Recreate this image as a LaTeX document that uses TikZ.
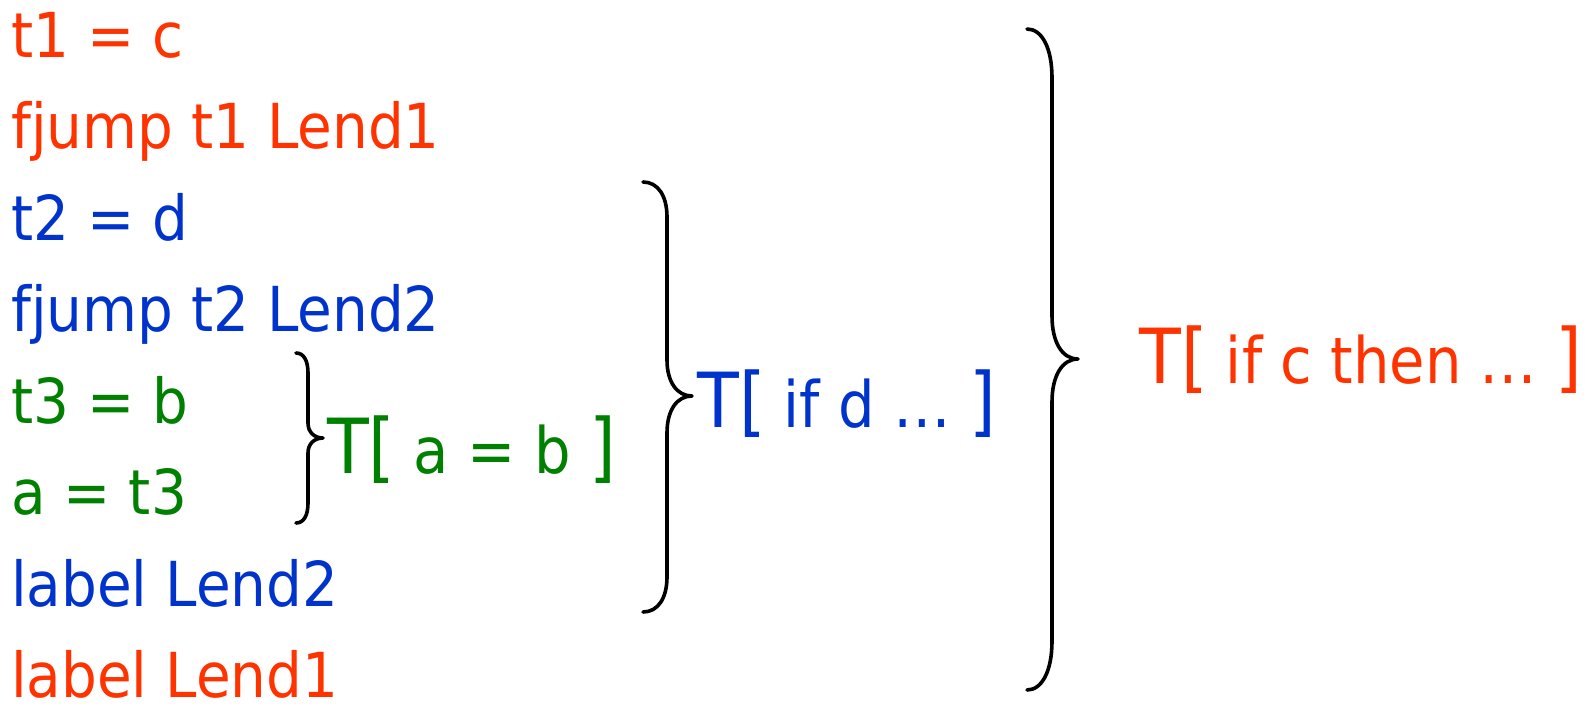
\documentclass[tikz,border=0pt]{standalone}
\usepackage{fontspec}
\setmainfont[FakeStretch=0.9]{DejaVu Sans}
\newfontfamily\codefont[FakeStretch=0.91]{DejaVu Sans}
\definecolor{cred}{HTML}{FF3300}
\definecolor{cblue}{HTML}{0033CC}
\definecolor{cgreen}{HTML}{008000}
\newcommand\bigsz{\fontsize{76}{76}\selectfont}
\newcommand\smsz{\fontsize{64}{64}\selectfont}
\begin{document}
\begin{tikzpicture}[x=1pt,y=-1pt,
  code/.style={anchor=base west, inner sep=0pt, font=\codefont\fontsize{62}{62}\selectfont},
  tlabel/.style={anchor=base west, inner sep=0pt},
  brace/.style={draw=black, line width=3.6pt, line cap=round, line join=round}]
\useasboundingbox (0,0) rectangle (1595,704);
% code lines
\node[code, text=cred]   (l1) at (11,57)    {t1 = c};
\node[code, text=cred]   (l2) at (11,148.5) {fjump t1 Lend1};
\node[code, text=cblue]  (l3) at (11,240)   {t2 = d};
\node[code, text=cblue]  (l4) at (11,331.5) {fjump t2 Lend2};
\node[code, text=cgreen] (l5) at (11,423)   {t3 = b};
\node[code, text=cgreen] (l6) at (11,514.5) {a = t3};
\node[code, text=cblue]  (l7) at (11,606)   {label Lend2};
\node[code, text=cred]   (l8) at (11,697.5) {label Lend1};
% braces
\path[brace] (296,353) .. controls (304,353) and (308,361) .. (308,373) -- (308,423)
  .. controls (308,432) and (314,438) .. (323,438) coordinate (tipA)
  .. controls (314,438) and (308,444) .. (308,453) -- (308,503)
  .. controls (308,515) and (304,523) .. (296,523);
\path[brace] (643,182) .. controls (658,182) and (667,196) .. (667,217) -- (667,360)
  .. controls (667,382) and (677,396) .. (692,396) coordinate (tipB)
  .. controls (677,396) and (667,410) .. (667,433) -- (667,577)
  .. controls (667,598) and (658,612) .. (643,612);
\path[brace] (1027,29) .. controls (1042,29) and (1052,48) .. (1052,78) -- (1052,316)
  .. controls (1052,342) and (1062,359) .. (1078,359) coordinate (tipC)
  .. controls (1062,359) and (1052,376) .. (1052,402) -- (1052,641)
  .. controls (1052,671) and (1042,690) .. (1027,690);
% labels
\node[tlabel, text=cgreen] (ta) at (327,473) {\bigsz T[\smsz\ a = b\ \bigsz]};
\node[tlabel, text=cblue]  (tb) at (697,427) {\bigsz T[\smsz\ if d …\ \bigsz]};
\node[tlabel, text=cred]   (tc) at (1139,383) {\bigsz T[\smsz\ if c then …\ \bigsz]};
\end{tikzpicture}
\end{document}
